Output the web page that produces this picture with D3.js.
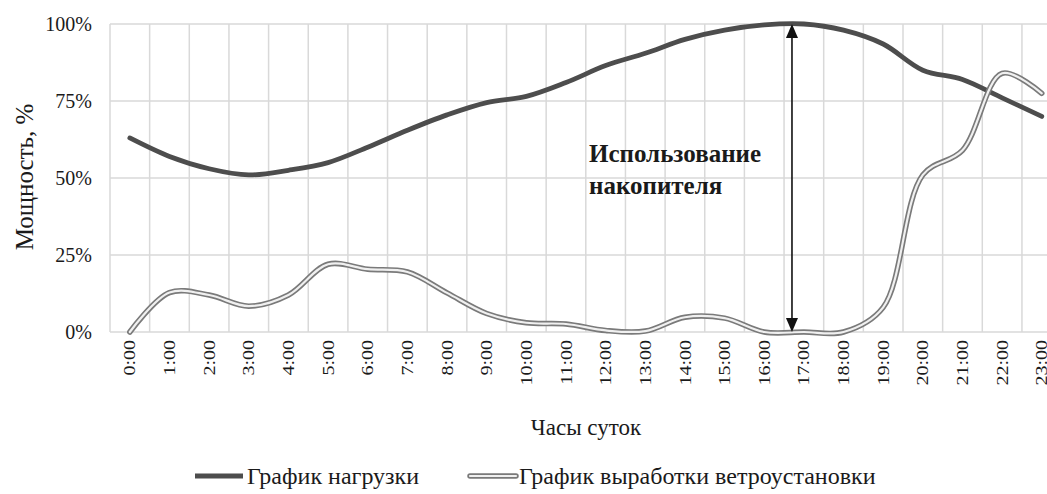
<!DOCTYPE html>
<html>
<head>
<meta charset="utf-8">
<script src="https://cdn.jsdelivr.net/npm/d3@7"></script>
<style>
  html, body { margin: 0; padding: 0; background: #fff; }
  svg { display: block; }
  text { font-family: "Liberation Serif", "DejaVu Serif", serif; fill: #1a1a1a; }
</style>
</head>
<body>
<svg id="chart" width="1047" height="494"></svg>
<script>
const hours = ["0:00","1:00","2:00","3:00","4:00","5:00","6:00","7:00","8:00","9:00","10:00","11:00",
               "12:00","13:00","14:00","15:00","16:00","17:00","18:00","19:00","20:00","21:00","22:00","23:00"];
const loadValues = [63, 57, 53, 51, 52.5, 55, 60, 65.5, 70.5, 74.5, 76.5, 81,
                    86.5, 90.5, 95, 98, 99.7, 100, 98, 93.5, 85, 82, 76, 70];
const windValues = [0, 12.8, 12, 8.4, 12, 22, 20.4, 19.5, 12.7, 6, 3, 2.6,
                    0.5, 0.3, 4.8, 4.5, 0, 0, 0, 8, 51, 59, 84, 77.5];
const yTicks = [0, 25, 50, 75, 100];
const seriesNames = ["График нагрузки", "График выработки ветроустановки"];
const yTitle = "Мощность, %";
const xTitle = "Часы суток";
const noteLines = ["Использование", "накопителя"];
const arrowHour = 16.7;

(function () {
const svg = d3.select("#chart");
const padL = 110, padT = 24, baseY = 332, step = 39.65;
const x = d3.scaleBand().domain(hours).range([padL, padL + step * hours.length]).padding(0);
const y = d3.scaleLinear().domain([0, 100]).range([baseY, padT]);
const cx = h => x(h) + x.bandwidth() / 2;

// grid
const grid = svg.append("g").attr("stroke", "#d9d9d9").attr("stroke-width", 1.5);
hours.forEach(h => grid.append("line").attr("x1", x(h)).attr("x2", x(h)).attr("y1", padT).attr("y2", baseY));
grid.append("line").attr("x1", x.range()[1]).attr("x2", x.range()[1]).attr("y1", padT).attr("y2", baseY);
yTicks.forEach(t => grid.append("line").attr("x1", padL).attr("x2", x.range()[1]).attr("y1", y(t)).attr("y2", y(t)));

// axes
const yAxis = svg.append("g").attr("transform", `translate(${padL},0)`)
  .call(d3.axisLeft(y).tickValues(yTicks).tickSize(0).tickPadding(18).tickFormat(d => d + "%"));
yAxis.select(".domain").remove();
yAxis.selectAll("text").style("font-family", "Liberation Serif").style("font-size", "20px").attr("fill", "#1a1a1a");

const xAxis = svg.append("g").attr("transform", `translate(0,${baseY})`)
  .call(d3.axisBottom(x).tickSize(0));
xAxis.select(".domain").remove();
xAxis.selectAll("text")
  .style("font-family", "Liberation Serif").style("font-size", "20px").attr("fill", "#1a1a1a")
  .attr("text-anchor", "end").attr("transform", "rotate(-90) scale(1,0.8)")
  .attr("x", -8).attr("y", 0).attr("dy", "0.35em");

// lines
const line = d3.line().x((d, i) => cx(hours[i])).y(d => y(d)).curve(d3.curveCatmullRom.alpha(0.5));
svg.append("path").attr("d", line(loadValues)).attr("fill", "none")
  .attr("stroke", "#4d4d4d").attr("stroke-width", 4.8).attr("stroke-linecap", "round");
svg.append("path").attr("d", line(windValues)).attr("fill", "none")
  .attr("stroke", "#7a7a7a").attr("stroke-width", 5.5).attr("stroke-linecap", "round");
svg.append("path").attr("d", line(windValues)).attr("fill", "none")
  .attr("stroke", "#f0f0f0").attr("stroke-width", 2.2).attr("stroke-linecap", "round");

// arrow annotation
const ax = cx(hours[0]) + arrowHour * step;
svg.append("line").attr("x1", ax).attr("x2", ax).attr("y1", y(100) + 10).attr("y2", y(0) - 10)
  .attr("stroke", "#111").attr("stroke-width", 1.6);
svg.append("path").attr("d", `M${ax},${y(100)} L${ax - 6},${y(100) + 14} L${ax + 6},${y(100) + 14} Z`).attr("fill", "#111");
svg.append("path").attr("d", `M${ax},${y(0)} L${ax - 6},${y(0) - 14} L${ax + 6},${y(0) - 14} Z`).attr("fill", "#111");

svg.append("g").selectAll("text").data(noteLines).join("text")
  .attr("x", 589).attr("y", (d, i) => 162 + i * 32)
  .style("font-size", "25px").style("font-weight", "bold").attr("fill", "#111")
  .text(d => d);

// titles
svg.append("text").attr("transform", "translate(24,177) rotate(-90)").attr("text-anchor", "middle")
  .attr("dy", "0.35em").style("font-size", "25px").text(yTitle);
svg.append("text").attr("x", 586).attr("y", 435).attr("text-anchor", "middle")
  .style("font-size", "23px").text(xTitle);

// legend
const lg = svg.append("g");
lg.append("line").attr("x1", 195).attr("x2", 243).attr("y1", 476).attr("y2", 476)
  .attr("stroke", "#4d4d4d").attr("stroke-width", 4.8);
lg.append("text").attr("x", 247).attr("y", 476).attr("dy", "0.35em").style("font-size", "24px").text(seriesNames[0]);
lg.append("line").attr("x1", 470).attr("x2", 516).attr("y1", 476).attr("y2", 476)
  .attr("stroke", "#7a7a7a").attr("stroke-width", 5.5).attr("stroke-linecap", "round");
lg.append("line").attr("x1", 470).attr("x2", 516).attr("y1", 476).attr("y2", 476)
  .attr("stroke", "#f0f0f0").attr("stroke-width", 2.2).attr("stroke-linecap", "round");
lg.append("text").attr("x", 519).attr("y", 476).attr("dy", "0.35em").style("font-size", "24px").text(seriesNames[1]);
})();
</script>
</body>
</html>
